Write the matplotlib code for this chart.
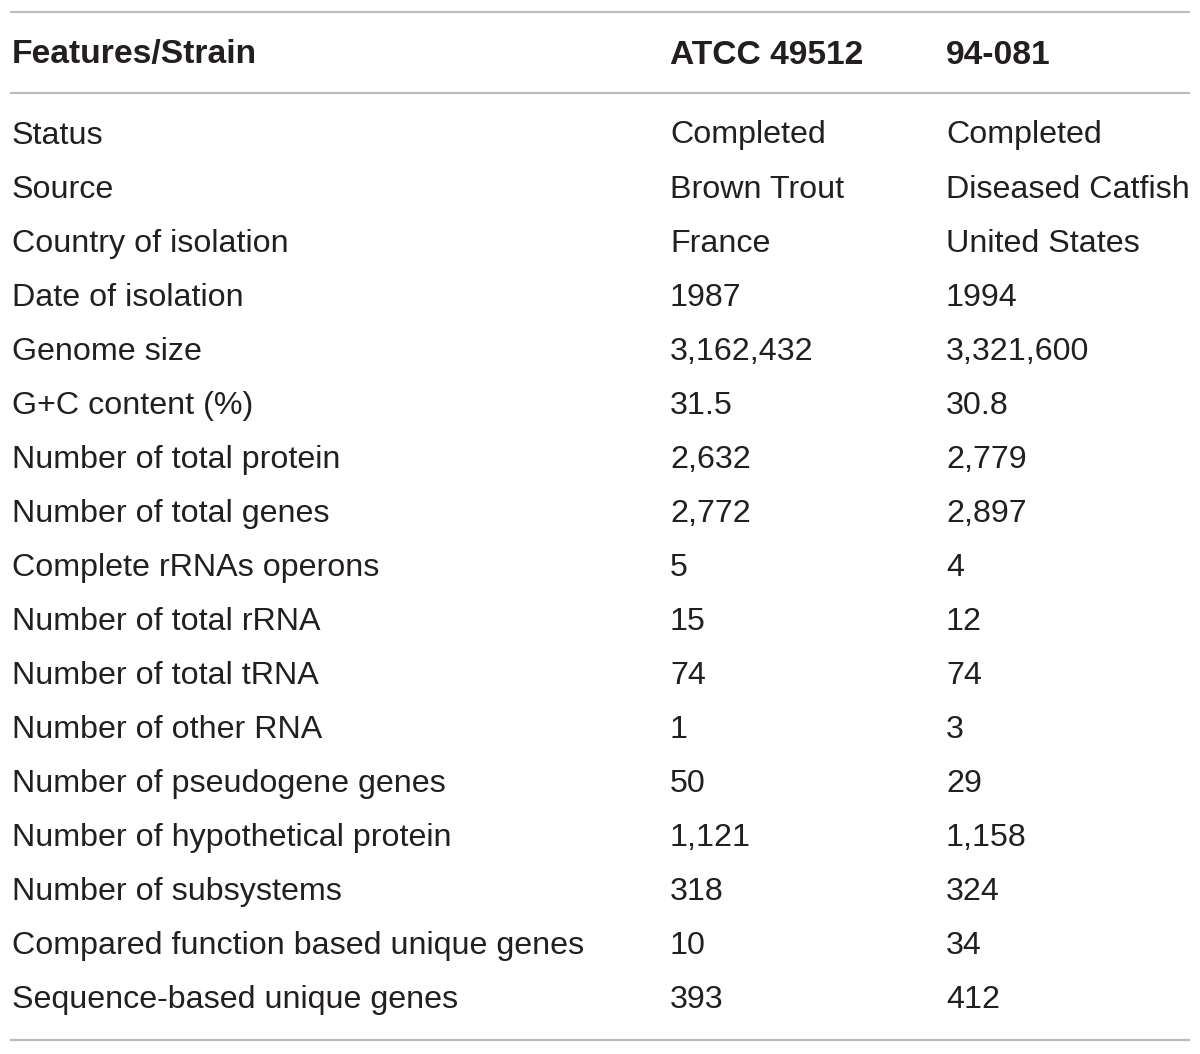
import matplotlib
matplotlib.use("Agg")
import matplotlib.pyplot as plt

columns = ["Features/Strain", "ATCC 49512", "94-081"]
features = [
    "Status", "Source", "Country of isolation", "Date of isolation", "Genome size",
    "G+C content (%)", "Number of total protein", "Number of total genes",
    "Complete rRNAs operons", "Number of total rRNA", "Number of total tRNA",
    "Number of other RNA", "Number of pseudogene genes", "Number of hypothetical protein",
    "Number of subsystems", "Compared function based unique genes", "Sequence-based unique genes",
]
atcc_49512 = ["Completed", "Brown Trout", "France", "1987", "3,162,432", "31.5", "2,632",
              "2,772", "5", "15", "74", "1", "50", "1,121", "318", "10", "393"]
strain_94_081 = ["Completed", "Diseased Catfish", "United States", "1994", "3,321,600", "30.8",
                 "2,779", "2,897", "4", "12", "74", "3", "29", "1,158", "324", "34", "412"]

W, H = 1200, 1054
fig = plt.figure(figsize=(W / 100, H / 100), dpi=100)
ax = fig.add_axes([0, 0, 1, 1])
ax.set_xlim(0, W)
ax.set_ylim(H, 0)
ax.axis("off")

col_x = [12, 670, 946]
txt = "#231f20"
line_c = "#bdbdbd"
fam = ["Liberation Sans", "DejaVu Sans"]
fs = 23.2
fs_h = 24.2

for x, c in zip(col_x, columns):
    ax.text(x, 55, c, fontsize=fs_h, fontweight="bold", color=txt, va="center", ha="left", family=fam)

y0, dy = 135.5, 54.06
for i, (f, a, b) in enumerate(zip(features, atcc_49512, strain_94_081)):
    y = y0 + i * dy
    for x, s in zip(col_x, (f, a, b)):
        ax.text(x, y, s, fontsize=fs, color=txt, va="center", ha="left", family=fam)

for y in (12, 93, 1040):
    ax.plot([10, 1190], [y, y], color=line_c, lw=1.6, solid_capstyle="butt")

fig.savefig("out.png", dpi=100)
